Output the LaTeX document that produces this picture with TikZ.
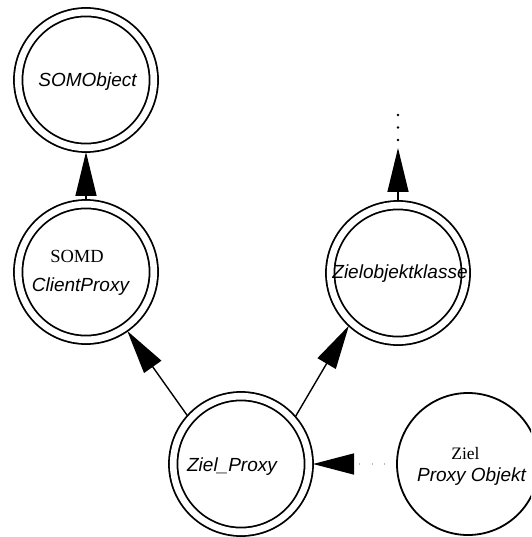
\documentclass[tikz,border=0pt]{standalone}
\usepackage{fontspec}
\setmainfont{Liberation Serif}
\setsansfont{Liberation Sans}
\usetikzlibrary{arrows.meta}
\tikzset{
  ring/.style={circle, draw, line width=1.8pt, double, double distance=6.6pt,
    minimum size=135.6pt, inner sep=0pt, outer sep=4.2pt},
  single/.style={circle, draw, line width=1.8pt, minimum size=142pt,
    inner sep=0pt, outer sep=0.9pt},
  cls/.style={font=\sffamily\itshape\fontsize{19}{22}\selectfont, inner sep=0pt, anchor=base},
  tag/.style={font=\rmfamily\fontsize{18.5}{22}\selectfont, inner sep=0pt, anchor=base},
  inherit/.style={line width=1.4pt, -{Triangle[length=44pt,width=21pt]}},
  delegate/.style={line width=1.5pt, gray!55, dash pattern=on 1.2pt off 11.3pt,
    dash phase=1.7pt, -{Triangle[length=41pt,width=21pt,black]}},
}
\begin{document}
\begin{tikzpicture}[x=1pt,y=-1pt]
  \useasboundingbox (0,0) rectangle (531,537);
  \clip (0,0) rectangle (531,537);

  % class circles
  \node[ring]   (so) at (86,80)   {};
  \node[ring]   (cp) at (86,272)  {};
  \node[ring]   (zk) at (398,273) {};
  \node[ring]   (zp) at (241,464) {};
  \node[single] (zo) at (468,464) {};

  % labels
  \node[cls] (soT)  at (87.5,87)  {SOMObject};
  \node[tag] (cpA)  at (77,262)   {SOMD};
  \node[cls] (cpB)  at (80.5,291) {ClientProxy};
  \node[cls] (zkT)  at (400,278)  {Zielobjektklasse};
  \node[cls] (zpT)  at (232,471.5){Ziel\_Proxy};
  \node[tag, font=\rmfamily\fontsize{17.5}{21}\selectfont] (zoA) at (465.5,459) {Ziel};
  \node[cls] (zoB)  at (471.5,481.5) {Proxy Objekt};

  % continuation above Zielobjektklasse
  \coordinate (more) at (398,148);
  \foreach \y in {115,127.5,140} \fill (398,\y) circle (1.3);

  % connectors
  \draw[inherit] (cp.north) -- (so.south);
  \draw[inherit] (zp.138)   -- (cp.-55);
  \draw[inherit] (zp.41)    -- (zk.227);
  \draw[inherit] (zk.north) -- (more);
  \draw[delegate] (zo.west) -- (zp.east);
\end{tikzpicture}
\end{document}
